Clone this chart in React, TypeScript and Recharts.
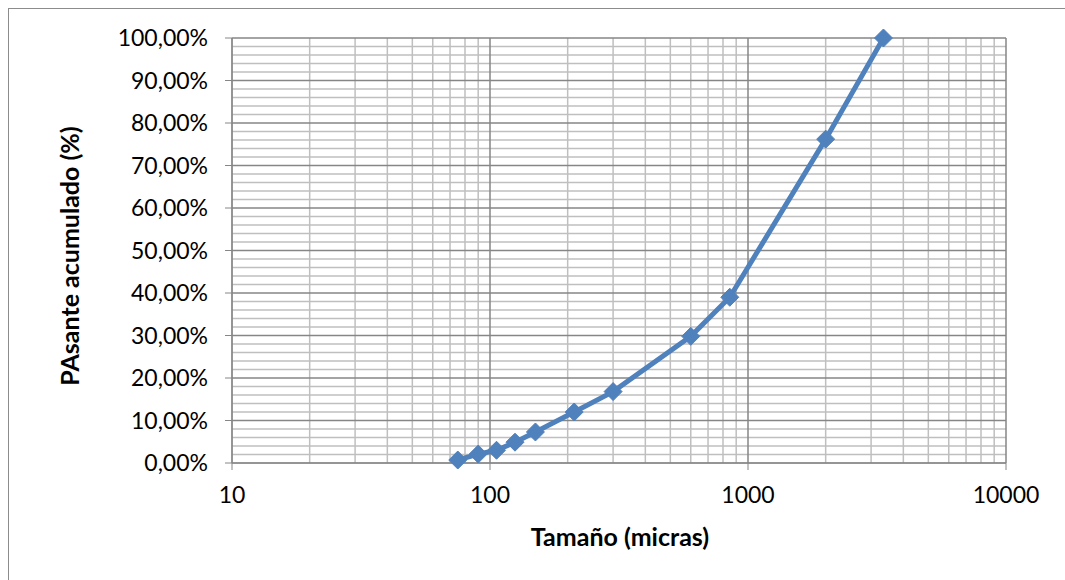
import { LineChart, Line, XAxis, YAxis, ReferenceLine } from 'recharts'

// tamaño de partícula (micras) y pasante acumulado (%)
const sizes = [75, 90, 106, 125, 150, 212, 300, 600, 850, 2000, 3350]
const passing = [0.7, 2.1, 3.0, 4.9, 7.3, 12.0, 16.8, 29.8, 39.0, 76.2, 100]

const xTicks = [10, 100, 1000, 10000]
const yTicks = [0, 10, 20, 30, 40, 50, 60, 70, 80, 90, 100]
const xMinor = [20, 30, 40, 50, 60, 70, 80, 90, 200, 300, 400, 500, 600, 700, 800, 900, 2000, 3000, 4000, 5000, 6000, 7000, 8000, 9000]
const yMinor = [2, 4, 6, 8, 12, 14, 16, 18, 22, 24, 26, 28, 32, 34, 36, 38, 42, 44, 46, 48, 52, 54, 56, 58, 62, 64, 66, 68, 72, 74, 76, 78, 82, 84, 86, 88, 92, 94, 96, 98]

const data = sizes.map((s, i) => ({ size: s, pct: passing[i] }))

const FONT = 'Lato, "Open Sans", sans-serif'
const MAJOR = '#868686'
const MINOR = '#bfbfbf'
const BLUE = '#4f81bd'

const fmtPct = (v: number) => v.toFixed(2).replace('.', ',') + '%'

const Diamond = (props: any) => {
  const { cx, cy } = props
  if (cx == null || cy == null) return null
  const r = 9
  return (
    <polygon
      points={`${cx},${cy - r} ${cx + r},${cy} ${cx},${cy + r} ${cx - r},${cy}`}
      fill={BLUE}
      stroke={BLUE}
      strokeWidth={1}
    />
  )
}

export default function App() {
  return (
    <div
      style={{
        position: 'fixed',
        left: 8,
        top: 8,
        width: 1057,
        height: 572,
        borderLeft: '1px solid #8c8c8c',
        borderTop: '1px solid #8c8c8c',
        boxSizing: 'border-box',
        background: '#fff',
        overflow: 'hidden',
      }}
    >
      <LineChart
        width={1048}
        height={569}
        data={data}
        margin={{ top: 29, right: 51, left: 0, bottom: 0 }}
        style={{ fontFamily: FONT }}
      >
        {yMinor.map((v) => (
          <ReferenceLine key={'ym' + v} y={v} stroke={MINOR} strokeWidth={1.5} />
        ))}
        {xMinor.map((v) => (
          <ReferenceLine key={'xm' + v} x={v} stroke={MINOR} strokeWidth={1.5} />
        ))}
        {yTicks.map((v) => (
          <ReferenceLine key={'yM' + v} y={v} stroke={MAJOR} strokeWidth={1.5} />
        ))}
        {xTicks.map((v) => (
          <ReferenceLine key={'xM' + v} x={v} stroke={MAJOR} strokeWidth={1.5} />
        ))}
        <XAxis
          dataKey="size"
          type="number"
          scale="log"
          domain={[10, 10000]}
          ticks={xTicks}
          allowDataOverflow
          height={115}
          stroke={MAJOR}
          tickSize={7}
          tickMargin={17}
          tick={{ fill: '#000', fontSize: 23, fontFamily: FONT }}
          label={{
            content: () => (
              <text x={611} y={537} textAnchor="middle" fontSize={25} fontWeight="bold" fontFamily={FONT} fill="#000">
                Tamaño (micras)
              </text>
            ),
          }}
        />
        <YAxis
          type="number"
          domain={[0, 100]}
          ticks={yTicks}
          width={223}
          stroke={MAJOR}
          tickSize={7}
          tickMargin={17}
          tickFormatter={fmtPct}
          tick={{ fill: '#000', fontSize: 23, fontFamily: FONT }}
          label={{
            content: () => (
              <text
                x={0}
                y={0}
                transform="translate(70 247) rotate(-90)"
                textAnchor="middle"
                fontSize={25}
                fontWeight="bold"
                fontFamily={FONT}
                fill="#000"
              >
                PAsante acumulado (%)
              </text>
            ),
          }}
        />
        <Line
          dataKey="pct"
          stroke={BLUE}
          strokeWidth={5}
          dot={<Diamond />}
          activeDot={false}
          isAnimationActive={false}
        />
      </LineChart>
    </div>
  )
}
